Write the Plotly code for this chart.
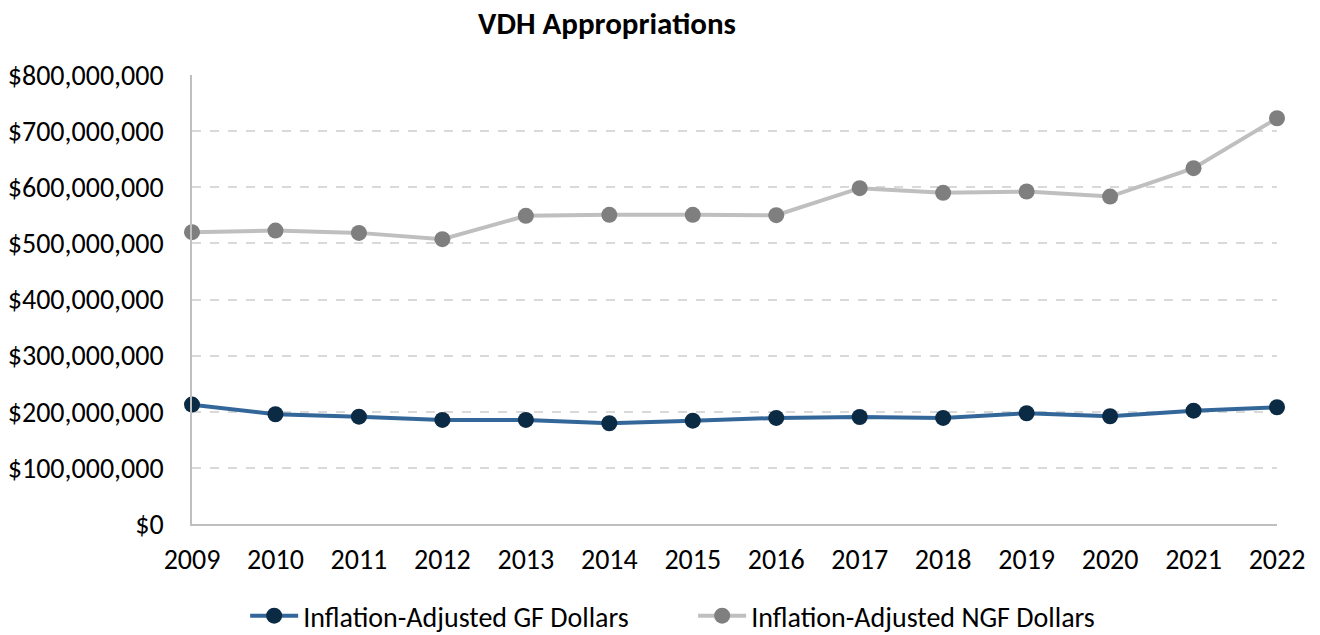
import plotly.graph_objects as go

years = [2009, 2010, 2011, 2012, 2013, 2014, 2015, 2016, 2017, 2018, 2019, 2020, 2021, 2022]
gf_values = [212.7e6, 195.5e6, 191.3e6, 185.4e6, 185.4e6, 179.5e6, 184.1e6, 189.0e6,
             190.7e6, 189.0e6, 197.3e6, 192.0e6, 202.0e6, 208.0e6]
ngf_values = [520.0e6, 522.8e6, 518.7e6, 507.5e6, 549.0e6, 550.8e6, 550.8e6, 550.2e6,
              598.4e6, 590.0e6, 592.4e6, 583.4e6, 634.0e6, 723.0e6]
y_tick_vals = [0, 100e6, 200e6, 300e6, 400e6, 500e6, 600e6, 700e6, 800e6]
y_tick_text = ["$0", "$100,000,000", "$200,000,000", "$300,000,000", "$400,000,000",
               "$500,000,000", "$600,000,000", "$700,000,000", "$800,000,000"]

FONT = "Carlito, Calibri, Lato, sans-serif"

fig = go.Figure()
fig.add_trace(go.Scatter(
    x=years, y=gf_values, mode="lines+markers",
    name="Inflation-Adjusted GF Dollars",
    line=dict(color="#336699", width=4),
    marker=dict(color="#0B2A44", size=16),
    cliponaxis=False,
))
fig.add_trace(go.Scatter(
    x=years, y=ngf_values, mode="lines+markers",
    name="Inflation-Adjusted NGF Dollars",
    line=dict(color="#BFBFBF", width=4),
    marker=dict(color="#7F7F7F", size=16),
    cliponaxis=False,
))

fig.update_layout(
    width=1312, height=627,
    paper_bgcolor="white", plot_bgcolor="white",
    margin=dict(l=184, r=43, t=67, b=111, autoexpand=False),
    font=dict(family=FONT, size=28, color="#000000"),
    title=dict(text="<b>VDH Appropriations</b>", x=599/1312, xref="container", xanchor="center",
               y=1 - 4/627, yref="container", yanchor="top", pad=dict(t=0, b=0),
               font=dict(family=FONT, size=31, color="#000000")),
    xaxis=dict(range=[2009, 2022], tickvals=years, ticktext=[str(y) for y in years],
               showgrid=False, showline=True, linecolor="#BFBFBF", linewidth=1.5,
               ticks="", zeroline=False, tickfont=dict(size=28), ticklabelstandoff=10,
               automargin=False),
    yaxis=dict(range=[0, 800e6], tickvals=y_tick_vals, ticktext=y_tick_text,
               showgrid=True, gridcolor="#D9D9D9", griddash="dash", gridwidth=1.5,
               showline=True, linecolor="#BFBFBF", linewidth=1.5,
               zeroline=False, ticks="", tickfont=dict(size=28), ticklabelstandoff=21,
               automargin=False),
    legend=dict(orientation="h", x=606/1312, xanchor="center",
                yref="container", y=(627 - 608) / 627, yanchor="middle",
                font=dict(size=28), tracegroupgap=0, itemwidth=48,
                entrywidthmode="pixels", entrywidth=385),
    showlegend=True,
)

fig.write_html("out.html")
